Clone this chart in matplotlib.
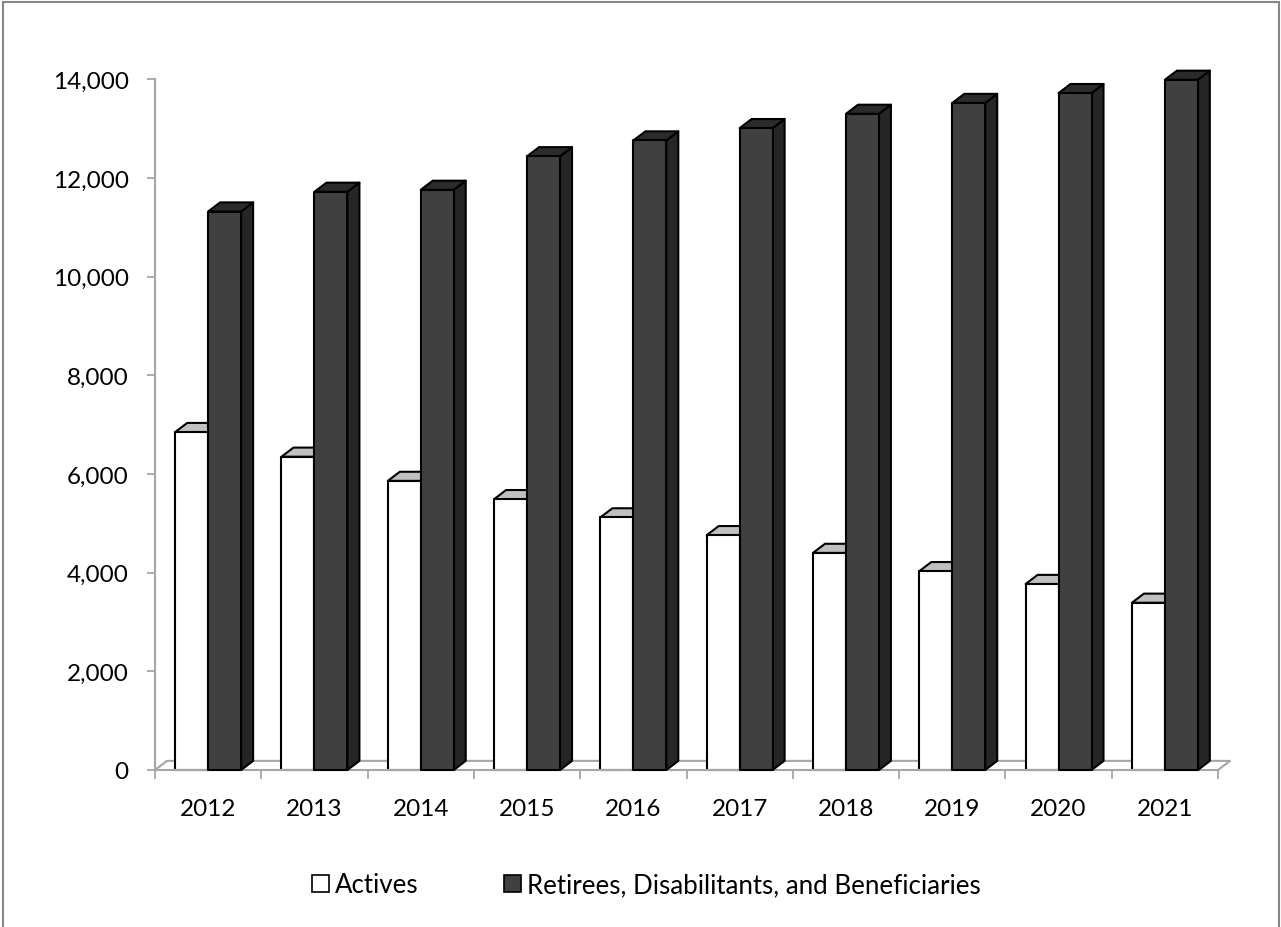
import matplotlib.pyplot as plt
from matplotlib.patches import Polygon, Rectangle
from matplotlib.ticker import FuncFormatter, MultipleLocator

plt.switch_backend("Agg")

# data
years = ["2012", "2013", "2014", "2015", "2016", "2017", "2018", "2019", "2020", "2021"]
actives = [6850, 6350, 5860, 5490, 5120, 4760, 4400, 4030, 3770, 3390]
retirees = [11320, 11720, 11760, 12440, 12760, 13010, 13300, 13520, 13720, 13990]
labels = ["Actives", "Retirees, Disabilitants, and Beneficiaries"]

# styling
BAR_W = 0.31
GAP = 0.19
DX = 0.113   # fake 3d depth, category units
DY = 185     # fake 3d depth, data units
AXIS_GRAY = "#a6a6a6"
EDGE = "black"
LW = 1.5

plt.rcParams["font.family"] = ["Lato", "DejaVu Sans"]
plt.rcParams["font.size"] = 17.5

W, H = 1281, 928
fig = plt.figure(figsize=(W / 100, H / 100), dpi=100)
ax = fig.add_axes([155 / W, (H - 771) / H, (1218 - 155) / W, (771 - 80.3) / H])


def add_box(x0, h, front, top, side=None, z=2):
    x1 = x0 + BAR_W
    if side is not None:
        ax.add_patch(Polygon([(x1, 0), (x1 + DX, DY), (x1 + DX, h + DY), (x1, h)],
                             closed=True, facecolor=side, edgecolor=EDGE, lw=LW,
                             joinstyle="round", clip_on=False, zorder=z))
    ax.add_patch(Polygon([(x0, h), (x0 + DX, h + DY), (x1 + DX, h + DY), (x1, h)],
                         closed=True, facecolor=top, edgecolor=EDGE, lw=LW,
                         joinstyle="round", clip_on=False, zorder=z))
    ax.add_patch(Rectangle((x0, 0), BAR_W, h, facecolor=front, edgecolor=EDGE,
                           lw=LW, joinstyle="round", clip_on=False, zorder=z + 0.5))


# floor of the 3d box
n = len(years)
ax.plot([0, DX, n + DX, n], [0, DY, DY, 0], color=AXIS_GRAY, lw=1.5,
        clip_on=False, zorder=1)

for i in range(n):
    add_box(i + GAP, actives[i], "white", "#c0c0c0", z=2)
    add_box(i + 0.5, retirees[i], "#404040", "#2b2b2b", side="#262626", z=3)

ax.set_xlim(0, n)
ax.set_ylim(0, 14000)

ax.xaxis.set_major_locator(MultipleLocator(1))
ax.xaxis.set_major_formatter(FuncFormatter(lambda v, p: ""))
ax.set_xticks([i + 0.5 for i in range(n)], minor=True)
ax.set_xticklabels(years, minor=True)
ax.tick_params(axis="x", which="major", length=6.5, width=1.3, color=AXIS_GRAY,
               direction="out")
ax.tick_params(axis="x", which="minor", length=0, pad=20)

ax.yaxis.set_major_locator(MultipleLocator(2000))
ax.yaxis.set_major_formatter(FuncFormatter(lambda v, p: f"{v:,.0f}"))
ax.tick_params(axis="y", length=6, width=1.3, color=AXIS_GRAY, pad=13)

for s in ("top", "right"):
    ax.spines[s].set_visible(False)
for s in ("left", "bottom"):
    ax.spines[s].set_color(AXIS_GRAY)
    ax.spines[s].set_linewidth(1.5)
ax.set_facecolor("none")

handles = [Rectangle((0, 0), 1, 1, facecolor="white", edgecolor=EDGE, lw=1.2),
           Rectangle((0, 0), 1, 1, facecolor="#404040", edgecolor=EDGE, lw=1.2)]
fig.legend(handles, labels, loc="center", bbox_to_anchor=(0.5047, (H - 886) / H),
           ncol=2, frameon=False, fontsize=18.6, handlelength=0.66,
           handleheight=0.66, handletextpad=0.23, columnspacing=3.3, borderpad=0)

# outer chart border
fig.patches.append(Rectangle((3 / W, -0.01), (1279 - 3) / W, 1.01 - 3 / H,
                             transform=fig.transFigure, fill=False,
                             edgecolor="#868686", lw=1.5))

fig.savefig("out.png", dpi=100)
plt.close(fig)
